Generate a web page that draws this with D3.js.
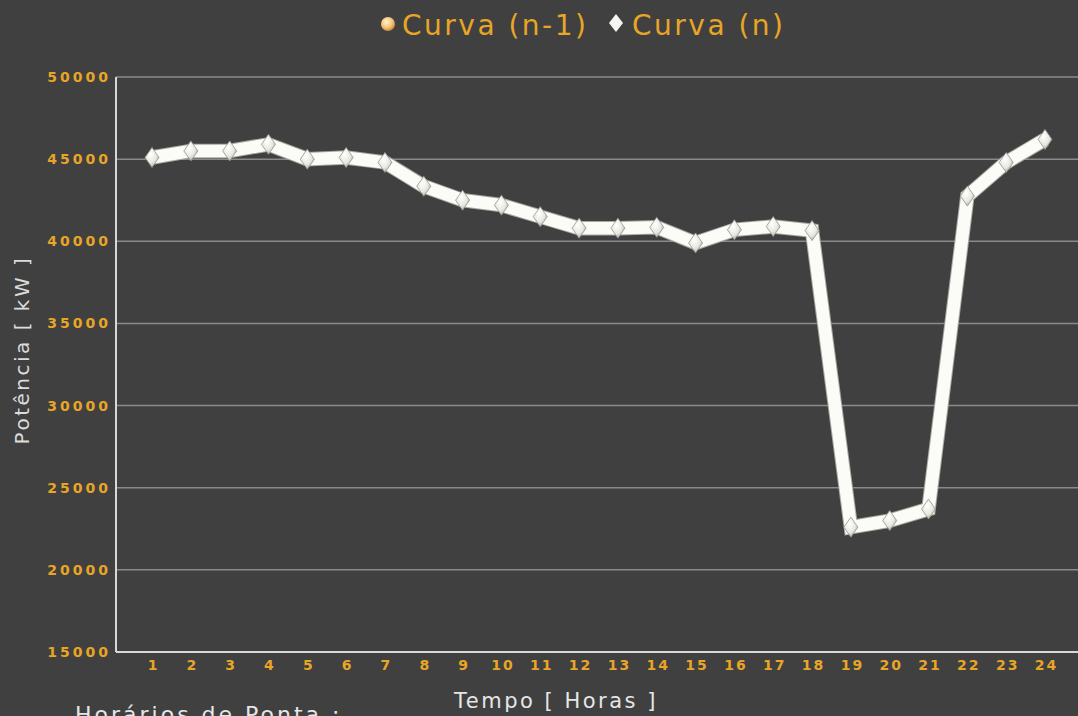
<!DOCTYPE html>
<html>
<head>
<meta charset="utf-8">
<script src="https://cdn.jsdelivr.net/npm/d3@7"></script>
<style>
  body { margin: 0; background: #404040; overflow: hidden; }
  svg { display: block; font-family: Verdana, "DejaVu Sans", sans-serif; }
  .tick text { font-family: "DejaVu Sans", sans-serif; font-weight: bold; font-size: 14px; }
</style>
</head>
<body>
<svg id="chart" width="1078" height="716"></svg>
<script>
/* data */
const hours = d3.range(1, 25);
const curva_n = [45100, 45500, 45500, 45900, 45000, 45100, 44800, 43350, 42500, 42200,
  41500, 40800, 40800, 40850, 39900, 40700, 40900, 40650, 22600, 23000,
  23700, 42750, 44800, 46200];
const y_ticks = [15000, 20000, 25000, 30000, 35000, 40000, 45000, 50000];
const legend_labels = ["Curva (n-1)", "Curva (n)"];

/* display parameters */
const width = 1078,
  height = 716,
  plot_left = 116,
  plot_top = 77,
  plot_bottom = 652,
  orange = "#e8a526";

let svg = d3.select("#chart");

let x = d3.scaleLinear().domain([1, 24]).range([152, 1045]),
  y = d3.scaleLinear().domain([15000, 50000]).range([plot_bottom, plot_top]);

let defs = svg.append("defs");
let dg = defs.append("radialGradient").attr("id", "diag").attr("cx", "40%").attr("cy", "35%").attr("r", "70%");
dg.append("stop").attr("offset", "0%").attr("stop-color", "#ffffff");
dg.append("stop").attr("offset", "60%").attr("stop-color", "#e8e8e0");
dg.append("stop").attr("offset", "100%").attr("stop-color", "#a4a49a");
let og = defs.append("radialGradient").attr("id", "orb").attr("cx", "40%").attr("cy", "35%").attr("r", "70%");
og.append("stop").attr("offset", "0%").attr("stop-color", "#fff3d0");
og.append("stop").attr("offset", "60%").attr("stop-color", "#f5c070");
og.append("stop").attr("offset", "100%").attr("stop-color", "#c08030");

/* grid */
svg.append("g")
  .selectAll("line")
  .data(y_ticks.filter(d => d > 15000))
  .join("line")
  .attr("x1", plot_left)
  .attr("x2", width)
  .attr("y1", d => y(d))
  .attr("y2", d => y(d))
  .attr("stroke", "#8a8a8a")
  .attr("stroke-width", 1.5);

/* axes */
let y_axis = svg.append("g")
  .attr("transform", "translate(" + plot_left + ",0)")
  .call(d3.axisLeft(y).tickValues(y_ticks).tickSize(0).tickPadding(5).tickFormat(d3.format("d")));
y_axis.select(".domain").remove();
y_axis.selectAll("text")
  .attr("fill", orange)
  .style("letter-spacing", "3px");

let x_axis = svg.append("g")
  .attr("transform", "translate(0," + plot_bottom + ")")
  .call(d3.axisBottom(x).tickValues(hours).tickSize(0).tickPadding(8).tickFormat(d3.format("d")));
x_axis.select(".domain").remove();
x_axis.selectAll("text")
  .attr("fill", orange)
  .attr("dx", 1)
  .style("letter-spacing", "2px");

svg.append("line")
  .attr("x1", plot_left).attr("x2", plot_left)
  .attr("y1", plot_top).attr("y2", plot_bottom)
  .attr("stroke", "#d8d8d8").attr("stroke-width", 2);
svg.append("line")
  .attr("x1", plot_left).attr("x2", width)
  .attr("y1", plot_bottom).attr("y2", plot_bottom)
  .attr("stroke", "#d8d8d8").attr("stroke-width", 2);

/* titles */
svg.append("text")
  .attr("transform", "translate(29,350) rotate(-90)")
  .attr("text-anchor", "middle")
  .attr("fill", "#dcdcdc")
  .attr("font-size", 20)
  .attr("letter-spacing", 2.5)
  .text("Potência [ kW ]");

svg.append("text")
  .attr("x", 556)
  .attr("y", 708)
  .attr("text-anchor", "middle")
  .attr("fill", "#e6e6e6")
  .attr("font-size", 21)
  .attr("letter-spacing", 2.5)
  .text("Tempo [ Horas ]");

svg.append("text")
  .attr("x", 75)
  .attr("y", 722)
  .attr("fill", "#e6e6e6")
  .attr("font-size", 22)
  .attr("letter-spacing", 3)
  .text("Horários de Ponta :");

/* line */
let line = d3.line()
  .x((d, i) => x(hours[i]))
  .y(d => y(d));

svg.append("path")
  .datum(curva_n)
  .attr("d", line)
  .attr("fill", "none")
  .attr("stroke", "#a8a8a0")
  .attr("stroke-width", 14.5)
  .attr("stroke-linejoin", "miter");
svg.append("path")
  .datum(curva_n)
  .attr("d", line)
  .attr("fill", "none")
  .attr("stroke", "#fbfbf8")
  .attr("stroke-width", 12.5)
  .attr("stroke-linejoin", "miter");

const diamond = "M0,-10L7,0L0,10L-7,0Z";
svg.append("g")
  .selectAll("path")
  .data(curva_n)
  .join("path")
  .attr("transform", (d, i) => "translate(" + x(hours[i]) + "," + y(d) + ")")
  .attr("d", diamond)
  .attr("fill", "url(#diag)")
  .attr("stroke", "#94948c")
  .attr("stroke-width", 0.8);

/* legend */
let legend = svg.append("g");
legend.append("circle")
  .attr("cx", 388).attr("cy", 24).attr("r", 7)
  .attr("fill", "url(#orb)");
legend.append("text")
  .attr("x", 402).attr("y", 35)
  .attr("fill", orange)
  .attr("font-size", 28)
  .attr("letter-spacing", 2.5)
  .text(legend_labels[0]);
legend.append("path")
  .attr("transform", "translate(616,23)")
  .attr("d", "M0,-9L7,0L0,9L-7,0Z")
  .attr("fill", "#f4f4f0");
legend.append("text")
  .attr("x", 632).attr("y", 35)
  .attr("fill", orange)
  .attr("font-size", 28)
  .attr("letter-spacing", 2.5)
  .text(legend_labels[1]);
</script>
</body>
</html>
